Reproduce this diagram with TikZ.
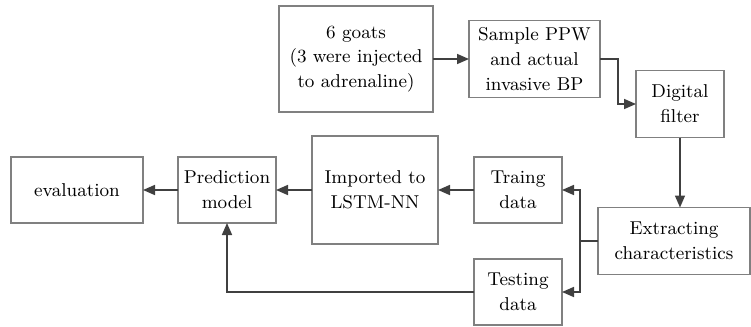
\documentclass[tikz,border=0pt]{standalone}
\usetikzlibrary{arrows.meta,calc}

\definecolor{boxline}{HTML}{808080}
\definecolor{arrline}{HTML}{404040}

\tikzset{
  stage/.style={draw=boxline, line width=0.6pt, align=center, inner sep=1pt,
    outer sep=0pt, font=\fontsize{9.3}{12.4}\selectfont},
  flow/.style={draw=arrline, line width=0.8pt, -{Triangle[length=6pt,width=5pt]}},
  link/.style={draw=arrline, line width=0.8pt}
}

\begin{document}
\begin{tikzpicture}
  [
    x=0.5pt, y=-0.5pt
  ]
    \useasboundingbox (0,0) rectangle (751,327);
    % processing stages
    \node[stage, minimum width=77pt, minimum height=53pt] (goats) at (356,59)
      {6 goats\\(3 were injected\\to adrenaline)};
    \node[stage, minimum width=65.5pt, minimum height=38.5pt] (sample) at (534.5,59)
      {Sample PPW\\and actual\\invasive BP};
    \node[stage, minimum width=44pt, minimum height=33.5pt] (filter) at (680,104)
      {Digital\\filter};
    \node[stage, minimum width=76pt, minimum height=33.5pt] (extract) at (674,241)
      {Extracting\\characteristics};
    \node[stage, minimum width=44pt, minimum height=33pt] (traing) at (518,190)
      {Traing\\data};
    \node[stage, minimum width=44pt, minimum height=33pt] (testing) at (518,292)
      {Testing\\data};
    \node[stage, minimum width=63pt, minimum height=54pt] (imported) at (375,190)
      {Imported to\\LSTM-NN};
    \node[stage, minimum width=49pt, minimum height=33pt] (predict) at (227,190)
      {Prediction\\model};
    \node[stage, minimum width=66pt, minimum height=33pt] (evaluation) at (77,190)
      {evaluation};
    % connectors
    \draw[flow] (goats) -- (sample);
    \draw[flow] (sample.east) -- ++(18,0) |- (filter.west);
    \draw[flow] (filter.south) -- (filter.south |- extract.north);
    \coordinate (fork) at ($(extract.west)+(-18,0)$);
    \draw[link] (extract.west) -- (fork);
    \draw[flow] (fork) |- (traing.east);
    \draw[flow] (fork) |- (testing.east);
    \draw[flow] (traing) -- (imported);
    \draw[flow] (imported) -- (predict);
    \draw[flow] (predict) -- (evaluation);
    \draw[flow] (testing.west) -| (predict.south);
\end{tikzpicture}
\end{document}
